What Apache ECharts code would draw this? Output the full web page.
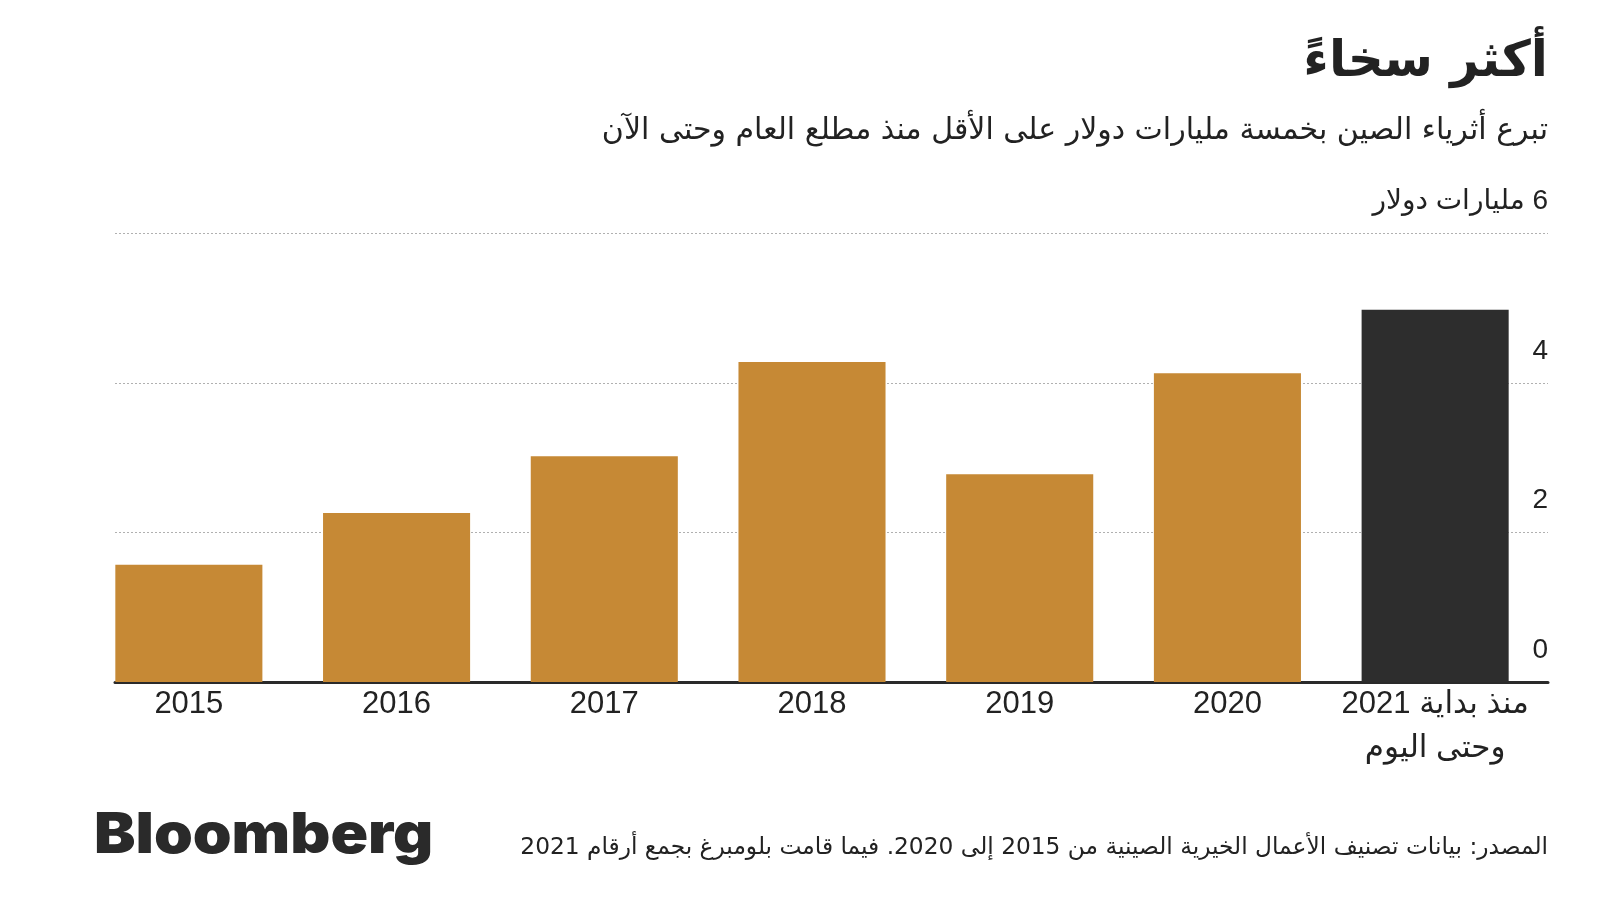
<!DOCTYPE html>
<html>
<head>
<meta charset="utf-8">
<script src="https://cdn.jsdelivr.net/npm/echarts@6/dist/echarts.min.js"></script>
<style>
  html, body { margin: 0; padding: 0; background: #ffffff; }
  #chart { width: 1600px; height: 900px; direction: rtl; }
</style>
</head>
<body>
<div id="chart"></div>
<script>
// ---- data ----
const categories = ['2015', '2016', '2017', '2018', '2019', '2020', 'منذ بداية 2021\nوحتى اليوم'];
const values = [1.57, 2.26, 3.02, 4.28, 2.78, 4.13, 4.98];
const yTicks = [0, 2, 4, 6];
const yUnit = 'مليارات دولار';
const titleText = 'أكثر سخاءً';
const subtitleText = 'تبرع أثرياء الصين بخمسة مليارات دولار على الأقل منذ مطلع العام وحتى الآن';
const sourceText = 'المصدر: بيانات تصنيف الأعمال الخيرية الصينية من 2015 إلى 2020. فيما قامت بلومبرغ بجمع أرقام 2021';
const logoText = 'Bloomberg';

// ---- styling ----
const GOLD = '#C68935';
const DARK = '#2D2D2D';
const TEXT = '#222222';
const FONT = "'Liberation Sans', 'DejaVu Sans', sans-serif";
const AR_FONT = "'DejaVu Sans', sans-serif";

const yMax = yTicks[yTicks.length - 1];
const yInterval = yTicks[1] - yTicks[0];

const chart = echarts.init(document.getElementById('chart'), null, { renderer: 'canvas' });

const barData = values.map((v, i) => ({
  value: v,
  itemStyle: { color: i === values.length - 1 ? DARK : GOLD }
}));

const option = {
  backgroundColor: '#ffffff',
  animation: false,
  grid: [
    { left: 85, right: 61, top: 233.5, bottom: 218, containLabel: false },
    { left: 115, right: 52, top: 233.5, bottom: 218, containLabel: false }
  ],
  xAxis: [
    {
      type: 'category', gridIndex: 0, data: categories,
      axisLine: { show: false }, axisTick: { show: false },
      axisLabel: {
        color: TEXT, fontFamily: FONT, fontSize: 31, lineHeight: 44,
        margin: 0, interval: 0, align: 'center'
      }
    },
    {
      type: 'value', gridIndex: 1, min: 0, max: 1,
      axisLine: { show: true, lineStyle: { color: '#2a2a2a', width: 3 } },
      axisTick: { show: false }, axisLabel: { show: false }, splitLine: { show: false }
    }
  ],
  yAxis: [
    {
      type: 'value', gridIndex: 0, min: 0, max: yMax, interval: yInterval,
      show: false, splitLine: { show: false }
    },
    {
      type: 'value', gridIndex: 1, min: 0, max: yMax, interval: yInterval,
      position: 'right',
      axisLine: { show: false }, axisTick: { show: false },
      splitLine: { show: true, lineStyle: { color: '#b0b0b0', width: 1, type: [2, 2] } },
      axisLabel: {
        inside: true, margin: 0, color: TEXT, fontFamily: FONT, fontSize: 28,
        verticalAlign: 'bottom', lineHeight: 64,
        formatter: (v) => (v === yMax ? v + ' ' + yUnit : String(v))
      }
    }
  ],
  series: [
    {
      type: 'bar', xAxisIndex: 0, yAxisIndex: 0, data: barData,
      barCategoryGap: '29.2%', z: 3
    }
  ],
  graphic: [
    {
      type: 'text', right: 52, top: 38,
      style: { text: titleText, fill: TEXT, font: 'bold 50px ' + AR_FONT, textAlign: 'right' }
    },
    {
      type: 'text', right: 52, top: 116,
      style: { text: subtitleText, fill: TEXT, font: '30px ' + AR_FONT, textAlign: 'right' }
    },
    {
      type: 'text', right: 52, top: 836,
      style: { text: sourceText, fill: TEXT, font: '23.3px ' + AR_FONT, textAlign: 'right' }
    },
    {
      type: 'text', left: 94, top: 808, scaleX: 1.11,
      style: { text: logoText, fill: '#2a2a2a', font: '900 56px Inter, "Liberation Sans", sans-serif' }
    }
  ]
};

chart.setOption(option);
</script>
</body>
</html>
